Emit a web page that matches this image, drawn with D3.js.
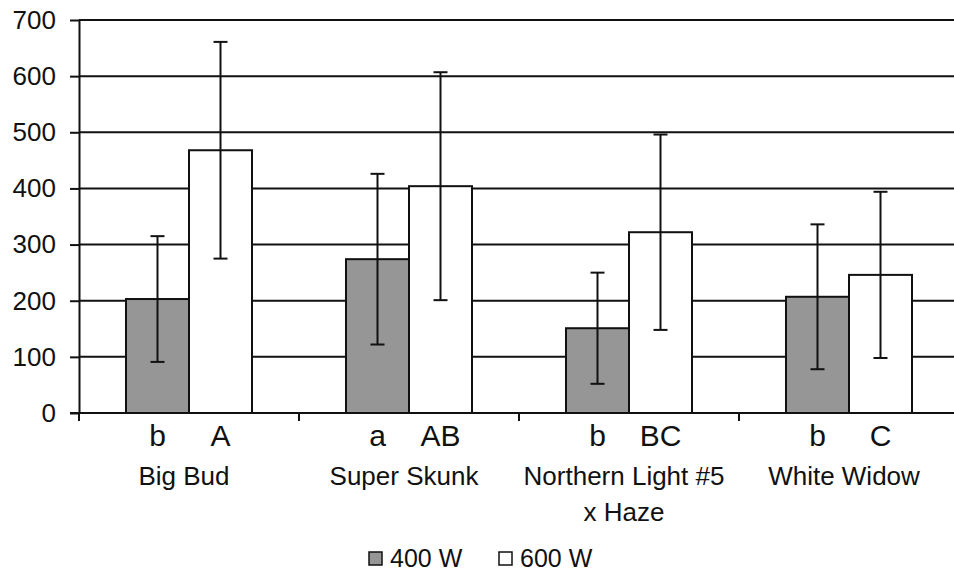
<!DOCTYPE html>
<html>
<head>
<meta charset="utf-8">
<script src="https://cdn.jsdelivr.net/npm/d3@7"></script>
<style>
  html, body { margin: 0; padding: 0; background: #fff; }
  svg { display: block; }
  text { font-family: "Liberation Sans", Arial, sans-serif; fill: #111; }
</style>
</head>
<body>
<svg id="chart" width="954" height="572"></svg>
<script>
// ── data ──────────────────────────────────────────────
const categories = ["Big Bud", "Super Skunk", "Northern Light #5 x Haze", "White Widow"];
const categoryLines = [["Big Bud"], ["Super Skunk"], ["Northern Light #5", "x Haze"], ["White Widow"]];
const series = ["400 W", "600 W"];
const values400 = [203, 274, 151, 207];
const errors400 = [112, 152, 99, 129];
const values600 = [468, 404, 322, 246];
const errors600 = [193, 203, 174, 148];
const letters400 = ["b", "a", "b", "b"];
const letters600 = ["A", "AB", "BC", "C"];
const yTicks = [0, 100, 200, 300, 400, 500, 600, 700];
const colors = { "400 W": "#969696", "600 W": "#ffffff" };

const rows = [];
categories.forEach((c, i) => {
  rows.push({ cat: c, s: "400 W", v: values400[i], e: errors400[i], letter: letters400[i] });
  rows.push({ cat: c, s: "600 W", v: values600[i], e: errors600[i], letter: letters600[i] });
});

// ── scales ────────────────────────────────────────────
const svg = d3.select('#chart');
const plotL = 79, plotR = 959, plotT = 20, plotB = 413;

const x = d3.scaleBand().domain(categories).range([plotL, plotR]).paddingInner(0).paddingOuter(0);
const x1 = d3.scaleBand().domain(series).range([0, x.bandwidth()]).paddingInner(0).paddingOuter(0.746);
const y = d3.scaleLinear().domain([0, 700]).range([plotB, plotT]);

// ── gridlines ─────────────────────────────────────────
svg.append('g').selectAll('line').data(yTicks.slice(1)).join('line')
  .attr('x1', plotL).attr('x2', plotR)
  .attr('y1', d => y(d)).attr('y2', d => y(d))
  .attr('stroke', '#111').attr('stroke-width', 2);

// ── bars ──────────────────────────────────────────────
svg.append('g').selectAll('rect').data(rows).join('rect')
  .attr('x', d => x(d.cat) + x1(d.s))
  .attr('y', d => y(d.v))
  .attr('width', x1.bandwidth())
  .attr('height', d => y(0) - y(d.v))
  .attr('fill', d => colors[d.s])
  .attr('stroke', '#111').attr('stroke-width', 2);

// ── error bars ────────────────────────────────────────
const eb = svg.append('g').attr('stroke', '#111').attr('stroke-width', 2);
const cx = d => x(d.cat) + x1(d.s) + x1.bandwidth() / 2;
eb.selectAll('.stem').data(rows).join('line').attr('class', 'stem')
  .attr('x1', cx).attr('x2', cx)
  .attr('y1', d => y(d.v + d.e)).attr('y2', d => y(d.v - d.e));
eb.selectAll('.capHi').data(rows).join('line').attr('class', 'capHi')
  .attr('x1', d => cx(d) - 7).attr('x2', d => cx(d) + 7)
  .attr('y1', d => y(d.v + d.e)).attr('y2', d => y(d.v + d.e));
eb.selectAll('.capLo').data(rows).join('line').attr('class', 'capLo')
  .attr('x1', d => cx(d) - 7).attr('x2', d => cx(d) + 7)
  .attr('y1', d => y(d.v - d.e)).attr('y2', d => y(d.v - d.e));

// ── y axis ────────────────────────────────────────────
const yAxis = svg.append('g').attr('transform', `translate(${plotL},0)`)
  .call(d3.axisLeft(y).tickValues(yTicks).tickSize(9).tickSizeOuter(0).tickPadding(14));
yAxis.select('.domain').attr('stroke', '#111').attr('stroke-width', 2);
yAxis.selectAll('.tick line').attr('stroke', '#111').attr('stroke-width', 2);
yAxis.selectAll('.tick text').attr('font-size', 26).attr('fill', '#111')
  .attr('font-family', '"Liberation Sans", Arial, sans-serif');

// ── x axis ────────────────────────────────────────────
svg.append('line').attr('x1', plotL - 9).attr('x2', plotR)
  .attr('y1', y(0)).attr('y2', y(0))
  .attr('stroke', '#111').attr('stroke-width', 2);
const bounds = categories.map(c => x(c)).concat([plotR]);
svg.append('g').selectAll('line').data(bounds).join('line')
  .attr('x1', d => d).attr('x2', d => d)
  .attr('y1', y(0)).attr('y2', y(0) + 8)
  .attr('stroke', '#111').attr('stroke-width', 2);

// significance letters
svg.append('g').selectAll('text').data(rows).join('text')
  .attr('x', cx).attr('y', 446)
  .attr('text-anchor', 'middle').attr('font-size', 30)
  .text(d => d.letter);

// category names
const catG = svg.append('g').selectAll('text').data(categories).join('text')
  .attr('x', d => x(d) + x.bandwidth() / 2 - 5).attr('y', 485)
  .attr('text-anchor', 'middle').attr('font-size', 26);
catG.each(function(d, i) {
  d3.select(this).selectAll('tspan').data(categoryLines[i]).join('tspan')
    .attr('x', x(d) + x.bandwidth() / 2 - 5)
    .attr('dy', (t, j) => j === 0 ? 0 : 36)
    .text(t => t);
});

// ── legend ────────────────────────────────────────────
const legendX = [369, 499];
const lg = svg.append('g').selectAll('g').data(series).join('g')
  .attr('transform', (d, i) => `translate(${legendX[i]},552)`);
lg.append('rect').attr('x', 0).attr('y', 0).attr('width', 13).attr('height', 13)
  .attr('fill', d => colors[d]).attr('stroke', '#111').attr('stroke-width', 1.5);
lg.append('text').attr('x', 21).attr('y', 14.5).attr('font-size', 25).text(d => d);
</script>
</body>
</html>
